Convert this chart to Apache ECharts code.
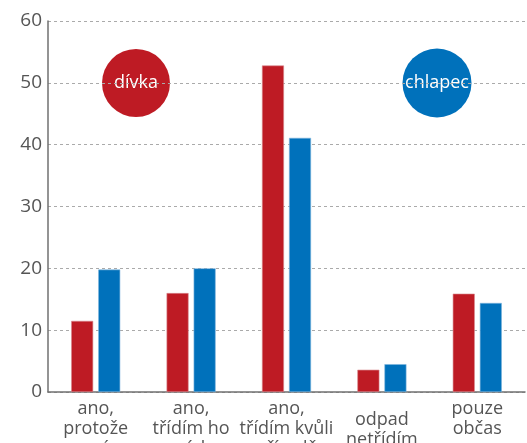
<!DOCTYPE html>
<html>
<head>
<meta charset="utf-8">
<script src="https://cdn.jsdelivr.net/npm/echarts@6/dist/echarts.min.js"></script>
<style>
  html, body { margin: 0; padding: 0; background: #fff; }
  #chart { width: 527px; height: 443px; }
</style>
</head>
<body>
<div id="chart"></div>
<script>
const categories = [
  "ano,\nprotože\nmusím",
  "ano,\ntřídím ho\nrád",
  "ano,\ntřídím kvůli\npřírodě",
  "odpad\nnetřídím",
  "pouze\nobčas"
];
const divka = [11.5, 16, 52.8, 3.6, 15.9];
const chlapec = [19.8, 20, 41.1, 4.5, 14.4];
const yTicks = [0, 10, 20, 30, 40, 50, 60];

const FONT = "Open Sans";
const RED = "#be1b24";
const BLUE = "#0071bb";

const chart = echarts.init(document.getElementById("chart"));

chart.setOption({
  animation: false,
  textStyle: { fontFamily: FONT },
  grid: { left: 48, right: 2, top: 21, bottom: 51, outerBoundsMode: "none", containLabel: false },
  xAxis: {
    type: "category",
    data: categories,
    axisTick: { show: false },
    axisLine: { lineStyle: { color: "#707070", width: 1.5 } },
    axisLabel: {
      interval: 0,
      color: "#555",
      fontSize: 18,
      lineHeight: 20,
      margin: 7,
      formatter: (v) => v.startsWith("odpad") ? "{o|" + v.replace("\n", "}\n{o|") + "}" : v,
      rich: { o: { fontSize: 18, lineHeight: 20, color: "#555", padding: [22, 0, 0, 0] } }
    }
  },
  yAxis: {
    type: "value",
    min: yTicks[0],
    max: yTicks[yTicks.length - 1],
    interval: 10,
    axisLine: { show: true, lineStyle: { color: "#707070", width: 1.5 } },
    axisTick: { show: false },
    axisLabel: { color: "#555", fontSize: 19, margin: 6 },
    splitLine: { lineStyle: { color: "#aaa", type: [3, 3], width: 1 } }
  },
  series: [
    {
      name: "dívka",
      type: "bar",
      data: divka,
      barWidth: 22,
      barGap: "23%",
      itemStyle: { color: RED, borderColor: "#d98a8e", borderWidth: 0.6 }
    },
    {
      name: "chlapec",
      type: "bar",
      data: chlapec,
      barWidth: 22,
      itemStyle: { color: BLUE, borderColor: "#7fb6dd", borderWidth: 0.6 }
    }
  ],
  graphic: [
    {
      type: "circle",
      shape: { cx: 136, cy: 83, r: 34 },
      style: { fill: RED },
      textContent: {
        style: { text: "dívka", fill: "#fff", fontSize: 18, fontFamily: FONT }
      },
      textConfig: { position: "inside" }
    },
    {
      type: "circle",
      shape: { cx: 437, cy: 83, r: 34.5 },
      style: { fill: BLUE },
      textContent: {
        style: { text: "chlapec", fill: "#fff", fontSize: 18, fontFamily: FONT }
      },
      textConfig: { position: "inside" }
    }
  ]
});

window.addEventListener("resize", () => chart.resize());
</script>
</body>
</html>
